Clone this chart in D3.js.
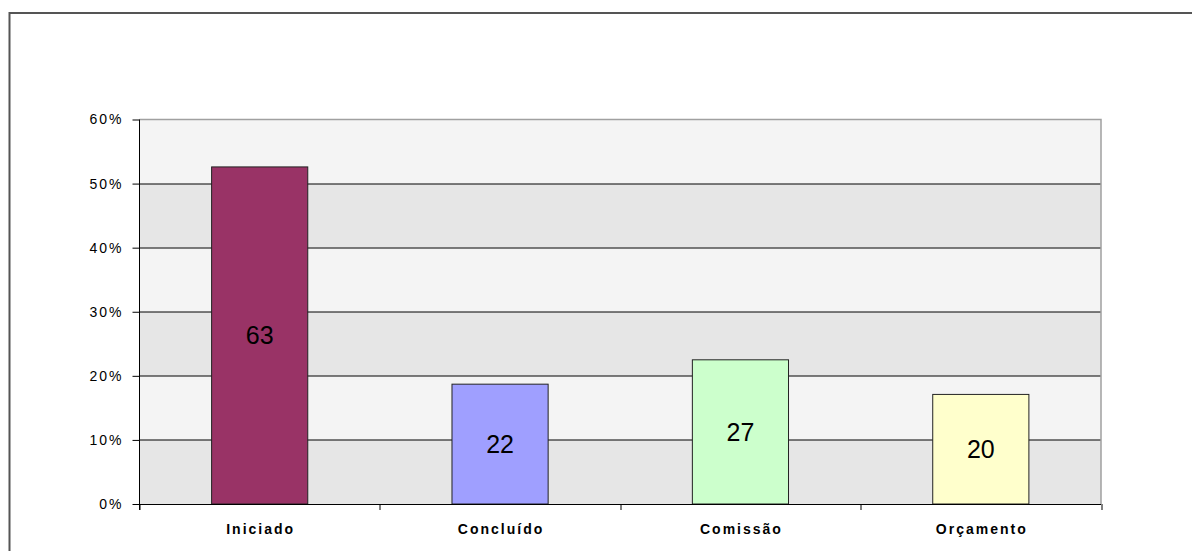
<!DOCTYPE html>
<html>
<head>
<meta charset="utf-8">
<style>
body { margin: 0; background: #fff; }
svg { display: block; }
.tick-label { font-family: Arial, "Liberation Sans", sans-serif; font-size: 14px; letter-spacing: 2px; fill: #000; }
.cat-label { font-family: Arial, "Liberation Sans", sans-serif; font-size: 14px; font-weight: bold; letter-spacing: 2px; fill: #000; }
.bar-label { font-family: Arial, "Liberation Sans", sans-serif; font-size: 25px; fill: #000; }
</style>
</head>
<body>
<svg id="chart" width="1192" height="551"></svg>
<script src="https://d3js.org/d3.v7.min.js"></script>
<script>

// data
var categories = ["Iniciado", "Concluído", "Comissão", "Orçamento"];
var shares = [0.526, 0.187, 0.225, 0.171];     // bar heights (share of answers)
var counts = [63, 22, 27, 20];                 // numbers printed in the bars
var colors = ["#993366", "#9f9fff", "#ccffcc", "#ffffcc"];
var yTicks = [0, 0.1, 0.2, 0.3, 0.4, 0.5, 0.6];

var svg = d3.select("#chart");

var margin = { top: 119.5, right: 91, bottom: 47, left: 139.5 },
  width = 1192 - margin.left - margin.right,
  height = 551 - margin.top - margin.bottom;

var data = categories.map(function(c, i) {
  return { name: c, share: shares[i], count: counts[i], color: colors[i] };
});

// outer frame
svg.append("rect")
  .attr("x", 9.5)
  .attr("y", 13)
  .attr("width", 1300)
  .attr("height", 700)
  .attr("fill", "none")
  .attr("stroke", "#555")
  .attr("stroke-width", 2);

var x = d3.scaleBand()
  .domain(categories)
  .range([0, width])
  .paddingInner(0.6)
  .paddingOuter(0.3);

var y = d3.scaleLinear()
  .domain([0, 0.6])
  .range([height, 0]);

var g = svg.append("g")
  .attr("transform", "translate(" + margin.left + "," + margin.top + ")");

// alternating bands
g.selectAll(".band")
  .data(yTicks.slice(0, -1))
  .enter().append("rect")
  .attr("class", "band")
  .attr("x", 0)
  .attr("width", width)
  .attr("y", function(d, i) { return y(yTicks[i + 1]); })
  .attr("height", function(d, i) { return y(d) - y(yTicks[i + 1]); })
  .attr("fill", function(d, i) { return i % 2 === 0 ? "#e6e6e6" : "#f4f4f4"; });

// gridlines
g.selectAll(".grid")
  .data(yTicks.slice(1, -1))
  .enter().append("line")
  .attr("class", "grid")
  .attr("x1", 0)
  .attr("x2", width)
  .attr("y1", function(d) { return Math.round(y(d)) + 0.5; })
  .attr("y2", function(d) { return Math.round(y(d)) + 0.5; })
  .attr("stroke", "#000")
  .attr("stroke-width", 1);

// plot area top and right border
g.append("path")
  .attr("d", "M0," + 0 + "H" + width + "V" + height)
  .attr("fill", "none")
  .attr("stroke", "#a0a0a0")
  .attr("stroke-width", 1.5);

// bars
g.selectAll(".bar")
  .data(data)
  .enter().append("rect")
  .attr("class", "bar")
  .attr("x", function(d) { return x(d.name); })
  .attr("width", x.bandwidth())
  .attr("y", function(d) { return y(d.share); })
  .attr("height", function(d) { return height - y(d.share); })
  .attr("fill", function(d) { return d.color; })
  .attr("stroke", "#222")
  .attr("stroke-width", 1);

g.selectAll(".bar-label")
  .data(data)
  .enter().append("text")
  .attr("class", "bar-label")
  .attr("x", function(d) { return x(d.name) + x.bandwidth() / 2; })
  .attr("y", function(d) { return (y(d.share) + height) / 2; })
  .attr("dy", "0.35em")
  .attr("text-anchor", "middle")
  .text(function(d) { return d.count; });

// y axis
var yAxis = d3.axisLeft(y)
  .tickValues(yTicks)
  .tickSize(7)
  .tickPadding(9)
  .tickFormat(d3.format(".0%"));

var yg = g.append("g").call(yAxis);
yg.select(".domain").attr("stroke", "#000").attr("d", "M0," + (height + 6) + "V0");
yg.selectAll(".tick line").attr("stroke", "#000");
yg.selectAll(".tick text")
  .attr("class", "tick-label")
  .attr("font-size", null)
  .attr("font-family", null);

// x axis: ticks sit between the categories
var step = x.step();
var xg = g.append("g").attr("transform", "translate(0," + height + ")");
xg.append("line")
  .attr("x1", 0).attr("x2", width)
  .attr("y1", 0.5).attr("y2", 0.5)
  .attr("stroke", "#000");
xg.selectAll(".xtick")
  .data(d3.range(categories.length + 1))
  .enter().append("line")
  .attr("class", "xtick")
  .attr("x1", function(k) { return Math.round(k * step) + 0.5; })
  .attr("x2", function(k) { return Math.round(k * step) + 0.5; })
  .attr("y1", 0)
  .attr("y2", 6)
  .attr("stroke", "#000");
xg.selectAll(".cat-label")
  .data(categories)
  .enter().append("text")
  .attr("class", "cat-label")
  .attr("x", function(d) { return x(d) + x.bandwidth() / 2 + 1; })
  .attr("y", 30)
  .attr("text-anchor", "middle")
  .text(function(d) { return d; });

</script>
</body>
</html>
